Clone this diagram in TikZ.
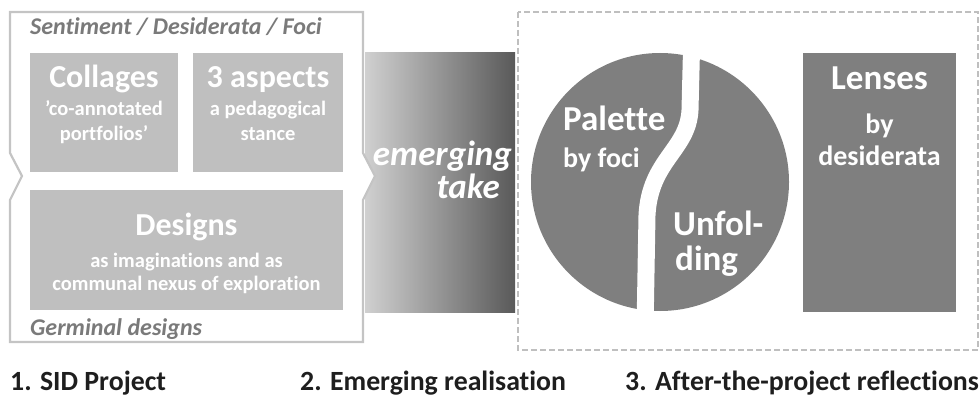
\documentclass[tikz,border=0pt]{standalone}
\usepackage{fontspec}
\setmainfont[Ligatures=NoCommon]{Carlito}
\definecolor{lgray}{HTML}{BFBFBF}
\definecolor{fgray}{HTML}{C4C4C4}
\definecolor{mgray}{HTML}{7F7F7F}
\definecolor{dgray}{HTML}{595959}
\definecolor{tgray}{HTML}{7A7A7A}
\definecolor{ink}{HTML}{1E1E1E}
\tikzset{
  lbox/.style={fill=lgray, draw=none, inner sep=0pt, anchor=north west},
  mbox/.style={fill=mgray, draw=none, inner sep=0pt, anchor=north west},
  ttl/.style={font=\bfseries\fontsize{32}{32}\selectfont, text=white, inner sep=0pt},
  bigttl/.style={font=\bfseries\fontsize{35}{35}\selectfont, text=white, inner sep=0pt},
  subt/.style={font=\bfseries\fontsize{20.5}{20.5}\selectfont, text=white, inner sep=0pt},
  midt/.style={font=\bfseries\fontsize{28}{28}\selectfont, text=white, inner sep=0pt},
  capt/.style={font=\bfseries\itshape\fontsize{24}{24}\selectfont, text=tgray, inner sep=0pt},
  foot/.style={font=\bfseries\fontsize{27.8}{27.8}\selectfont, text=ink, inner sep=0pt, anchor=base west},
  emt/.style={font=\bfseries\itshape\fontsize{35}{35}\selectfont, text=white, inner sep=0pt, anchor=base east},
}
\begin{document}
\begin{tikzpicture}[x=1pt,y=-1pt]
\useasboundingbox (0,0) rectangle (980,396);
% gradient box
\node[draw=none, inner sep=0pt, anchor=north west, minimum width=150pt, minimum height=260pt,
      left color=fgray!80, right color=dgray] (grad) at (365,52) {};
% chevron frame
\draw[fgray, line width=2.2pt, fill=white, line join=miter]
  (10,12) -- (363,12) -- (363,153) -- (375,176) -- (363,200) -- (363,342)
  -- (10,342) -- (10,200) -- (22,176) -- (10,153) -- cycle;
\coordinate (chevtip) at (375,176);
% inner boxes
\node[lbox, minimum width=148pt, minimum height=119pt] (coll) at (30,53) {};
\node[lbox, minimum width=150pt, minimum height=119pt] (asp) at (193,53) {};
\node[lbox, minimum width=313pt, minimum height=120pt] (des) at (30,190) {};
\node[capt, anchor=base west] (sdf) at (30,35) {Sentiment / Desiderata / Foci};
\node[capt, anchor=base west] (germ) at (30,335) {Germinal designs};
\node[ttl, anchor=base] (collt) at (104,88) {Collages};
\node[subt, anchor=base] (colls1) at (104,115) {’co-annotated};
\node[subt, anchor=base] (colls2) at (104,140) {portfolios’};
\node[ttl, anchor=base] (aspt) at (268,88) {3 aspects};
\node[subt, anchor=base] (asps1) at (268,115) {a pedagogical};
\node[subt, anchor=base] (asps2) at (268,140) {stance};
\node[ttl, anchor=base] (dest) at (186.5,235) {Designs};
\node[subt, anchor=base] (dess1) at (186.5,267) {as imaginations and as};
\node[subt, anchor=base] (dess2) at (186.5,290) {communal nexus of exploration};
% emerging take
\node[emt] (em1) at (512,165) {emerging};
\node[emt] (em2) at (500,198) {take};
% dashed frame
\draw[lgray, line width=2pt, dash pattern=on 6pt off 3pt] (518,12) rectangle (978,350);
% circle split
\node[circle, fill=mgray, draw=none, inner sep=0pt, minimum size=258pt] (circ) at (660,182) {};
\draw[white, line width=17pt] (692,30) -- (690,110) .. controls (688,150) and (650,160) .. (647,215) -- (645,330);
\node[bigttl, anchor=base west] (pal) at (563,130) {Palette};
\node[midt, anchor=base west] (pals) at (563,167) {by foci};
\node[bigttl, anchor=base west] (unf1) at (673,235) {Unfol-};
\node[bigttl, anchor=base west] (unf2) at (675,270) {ding};
% lenses
\node[mbox, minimum width=153pt, minimum height=259pt] (lens) at (803,53) {};
\node[bigttl, anchor=base] (lenst) at (879.5,89) {Lenses};
\node[midt, anchor=base] (lens1) at (879.5,133) {by};
\node[midt, anchor=base] (lens2) at (879.5,165) {desiderata};
% footers
\node[foot] (f1) at (10,390) {1. SID Project};
\node[foot] (f2) at (300,390) {2. Emerging realisation};
\node[foot] (f3) at (625,390) {3. After-the-project reflections};
\end{tikzpicture}
\end{document}
